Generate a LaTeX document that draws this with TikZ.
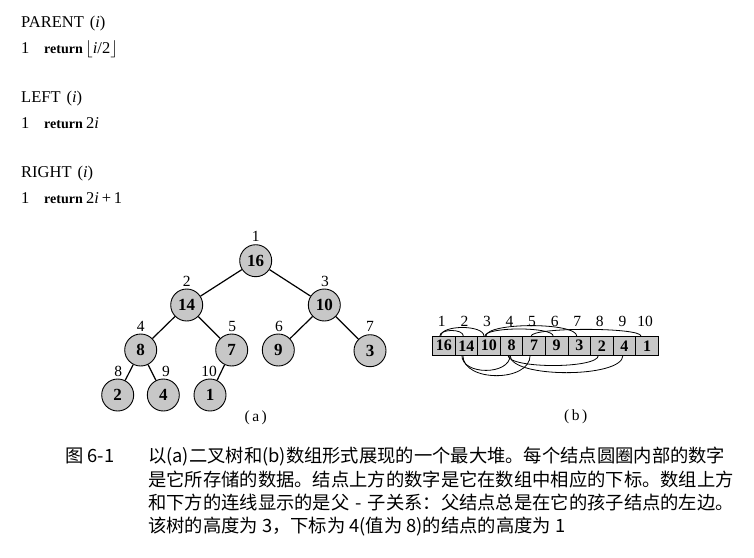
\documentclass[tikz,border=0pt]{standalone}
\usepackage{fontspec}
\setmainfont{Liberation Serif}
\newfontfamily\cjk{Noto Sans CJK SC}
\usetikzlibrary{calc}
\definecolor{heapfill}{gray}{0.78}
\begin{document}
\begin{tikzpicture}[x=1pt,y=-1pt,
  codetxt/.style={anchor=base west, inner sep=0, font=\fontsize{16.5}{19}\selectfont},
  kw/.style={anchor=base west, inner sep=0, font=\fontsize{14}{16}\selectfont\bfseries},
  heap/.style={circle, draw, line width=0.9pt, fill=heapfill, minimum size=32pt, inner sep=0, font=\fontsize{17}{19}\selectfont\bfseries},
  idx/.style={inner sep=0, font=\fontsize{15.5}{17}\selectfont},
  cell/.style={draw, line width=0.8pt, fill=heapfill, minimum width=22.58pt, minimum height=18.5pt, inner sep=0, font=\fontsize{16}{18}\selectfont\bfseries},
  treeedge/.style={line width=1.2pt},
  arcline/.style={line width=0.8pt},
  captxt/.style={anchor=base west, inner sep=0, font=\fontsize{18.3}{22}\cjk}
]
\useasboundingbox (0,0) rectangle (754,557);

% ---- pseudocode ----
\node[codetxt] (p1) at (21,27) {PARENT\hspace{6pt}(\textit{i})};
\node[codetxt] (p2) at (21,53) {1};
\node[kw] (p3) at (44,53) {return};
\node[codetxt] (p4) at (85,53) {$\lfloor$\textit{i}/2$\rfloor$};
\node[codetxt] (l1) at (21,102) {LEFT\hspace{6pt}(\textit{i})};
\node[codetxt] (l2) at (21,128) {1};
\node[kw] (l3) at (44,128) {return};
\node[codetxt] (l4) at (86,128) {2\textit{i}};
\node[codetxt] (r1) at (21,177) {RIGHT\hspace{6pt}(\textit{i})};
\node[codetxt] (r2) at (21,203) {1};
\node[kw] (r3) at (44,203) {return};
\node[codetxt] (r4) at (86,203) {2\textit{i}\,+\,1};

% ---- tree ----
\node[heap] (t1) at (255.7,260.7) {16};
\node[heap] (t2) at (186.7,305) {14};
\node[heap] (t3) at (324.3,305) {10};
\node[heap] (t4) at (140.7,350) {8};
\node[heap] (t5) at (231.7,350) {7};
\node[heap] (t6) at (278.3,350) {9};
\node[heap] (t7) at (370,350.7) {3};
\node[heap] (t8) at (117.7,395) {2};
\node[heap] (t9) at (163.3,395) {4};
\node[heap] (t10) at (210,395) {1};

\node[idx] (i1) at (255.7,236.5) {1};
\node[idx] (i2) at (186.7,281.5) {2};
\node[idx] (i3) at (325,281.5) {3};
\node[idx] (i4) at (140.7,326.5) {4};
\node[idx] (i5) at (232.3,326.5) {5};
\node[idx] (i6) at (279,326.5) {6};
\node[idx] (i7) at (370,326.5) {7};
\node[idx] (i8) at (118.3,371.5) {8};
\node[idx] (i9) at (166,371.5) {9};
\node[idx] (i10) at (209,371.5) {10};

\draw[treeedge] (t1) -- (t2);
\draw[treeedge] (t1) -- (t3);
\draw[treeedge] (t2) -- (t4);
\draw[treeedge] (t2) -- (t5);
\draw[treeedge] (t3) -- (t6);
\draw[treeedge] (t3) -- (t7);
\draw[treeedge] (t4) -- (t8);
\draw[treeedge] (t4) -- (t9);
\draw[treeedge] (t5) -- (t10);

\node[idx] (capa) at (255.7,418) {(\hspace{2.5pt}a\hspace{2.5pt})};

% ---- array ----
\foreach \v [count=\k] in {16,14,10,8,7,9,3,2,4,1} {
  \node[cell] (c\k) at ({432.5+22.58*(\k-0.5)},345.75) {\v};
  \node[idx] (j\k) at ({432.5+22.58*(\k-0.5)-2},321.5) {\k};
}

% arcs above
\draw[arcline] ($(c1.north)+(-4,0)$) .. controls +(0,-7.5) and +(0,-7.5) .. ($(c2.north)+(-3,0)$);
\draw[arcline] ($(c1.north)+(-3,0)$) .. controls +(0,-11.5) and +(0,-11.5) .. ($(c3.north)+(-5,0)$);
\draw[arcline] ($(c3.north)+(-4,0)$) .. controls +(0,-9.5) and +(0,-9.5) .. ($(c6.north)+(-3.5,0)$);
\draw[arcline] ($(c3.north)+(-3,0)$) .. controls +(0,-14) and +(0,-14) .. ($(c7.north)+(-2.5,0)$);
\draw[arcline] ($(c5.north)+(-3,0)$) .. controls +(0,-9) and +(0,-9) .. ($(c10.north)+(-6,0)$);
% arcs below
\draw[arcline] ($(c2.south)+(-4.5,0)$) .. controls +(0,20) and +(0,20) .. ($(c4.south)+(-1.5,0)$);
\draw[arcline] ($(c2.south)+(-3.5,0)$) .. controls +(0,27) and +(0,27) .. ($(c5.south)+(-4,0)$);
\draw[arcline] ($(c4.south)+(-3.5,0)$) .. controls +(0,13.5) and +(0,13.5) .. ($(c8.south)+(-3.5,0)$);
\draw[arcline] ($(c4.south)+(-1.5,0)$) .. controls +(0,23) and +(0,23) .. ($(c9.south)+(-1.5,0)$);

\node[idx] (capb) at (575.7,417) {(\hspace{2.5pt}b\hspace{2.5pt})};

% ---- caption ----
\node[captxt] (f0) at (65,462) {图 6-1};
\node[captxt] (f1) at (148,462) {以(a)二叉树和(b)数组形式展现的一个最大堆。每个结点圆圈内部的数字};
\node[captxt] (f2) at (148,486) {是它所存储的数据。结点上方的数字是它在数组中相应的下标。数组上方};
\node[captxt] (f3) at (148,509) {和下方的连线显示的是父\makebox[1em]{-}子关系：父结点总是在它的孩子结点的左边。};
\node[captxt] (f4) at (148,532) {该树的高度为 3，下标为 4(值为 8)的结点的高度为 1};
\end{tikzpicture}
\end{document}
